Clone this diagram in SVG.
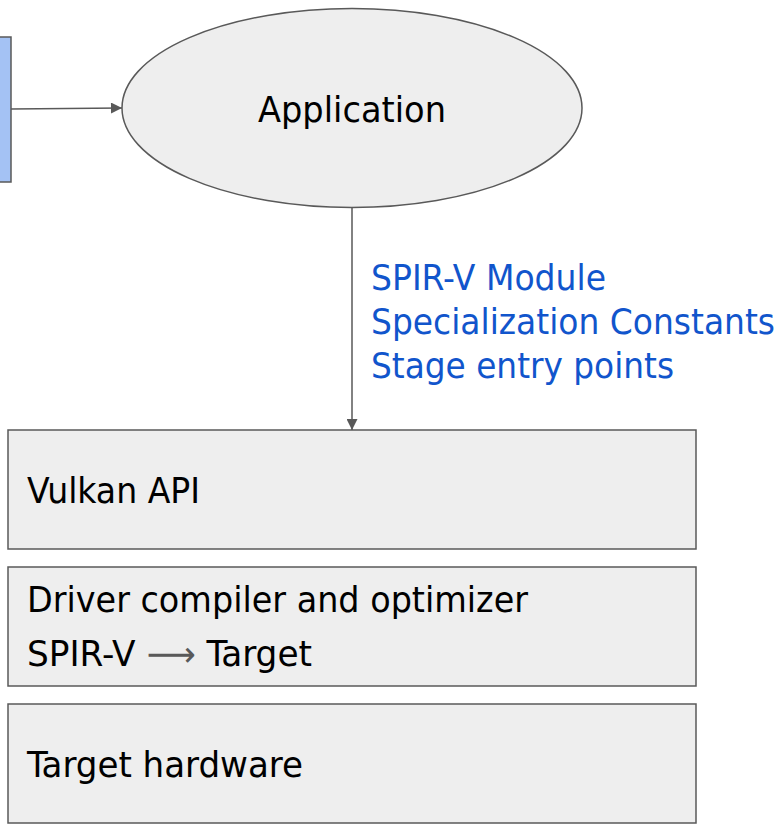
<svg xmlns="http://www.w3.org/2000/svg" width="784" height="824" viewBox="0 0 784 824">
<style>
.box{fill:#eeeeee;stroke:#595959;stroke-width:1.5}
.t{font-family:"DejaVu Sans Condensed","DejaVu Sans","Liberation Sans",sans-serif;font-stretch:condensed;font-size:35px;fill:#000000}
.b{font-family:"DejaVu Sans Condensed","DejaVu Sans","Liberation Sans",sans-serif;font-stretch:condensed;font-size:35px;fill:#1155cc}
.c{fill:none;stroke:#595959;stroke-width:1.5}
</style>
<defs>
<marker id="ah" viewBox="0 0 10 10" refX="10" refY="5" markerWidth="12" markerHeight="11" markerUnits="userSpaceOnUse" orient="auto">
<path d="M0,0 L10,5 L0,10 Z" fill="#595959"/>
</marker>
</defs>
<rect width="784" height="824" fill="#ffffff"/>
<g id="source">
<rect x="-2" y="37" width="13" height="145" fill="#a4c2f4" stroke="#595959" stroke-width="1.5"/>
</g>
<g id="application">
<ellipse cx="352" cy="108" rx="230" ry="99.5" class="box"/>
<text x="258" y="122" class="t" textLength="188" lengthAdjust="spacingAndGlyphs">Application</text>
</g>
<g id="vulkan-api">
<rect x="8" y="430" width="688" height="119" class="box"/>
<text x="27" y="503" class="t" textLength="173" lengthAdjust="spacingAndGlyphs">Vulkan API</text>
</g>
<g id="driver">
<rect x="8" y="567" width="688" height="119" class="box"/>
<text x="27" y="612" class="t" textLength="501" lengthAdjust="spacingAndGlyphs">Driver compiler and optimizer</text>
<text x="27" y="666" class="t" textLength="285" lengthAdjust="spacingAndGlyphs">SPIR-V <tspan fill="#595959">⟶</tspan> Target</text>
</g>
<g id="hardware">
<rect x="8" y="704" width="688" height="119" class="box"/>
<text x="27" y="777" class="t" textLength="276" lengthAdjust="spacingAndGlyphs">Target hardware</text>
</g>
<g id="connectors">
<path d="M11,109 L122,108" class="c" marker-end="url(#ah)"/>
<path d="M352,208 L352,430" class="c" marker-end="url(#ah)"/>
<text x="371" y="290" class="b" textLength="235" lengthAdjust="spacingAndGlyphs">SPIR-V Module</text>
<text x="371" y="334" class="b" textLength="404" lengthAdjust="spacingAndGlyphs">Specialization Constants</text>
<text x="371" y="378" class="b" textLength="303" lengthAdjust="spacingAndGlyphs">Stage entry points</text>
</g>
</svg>
